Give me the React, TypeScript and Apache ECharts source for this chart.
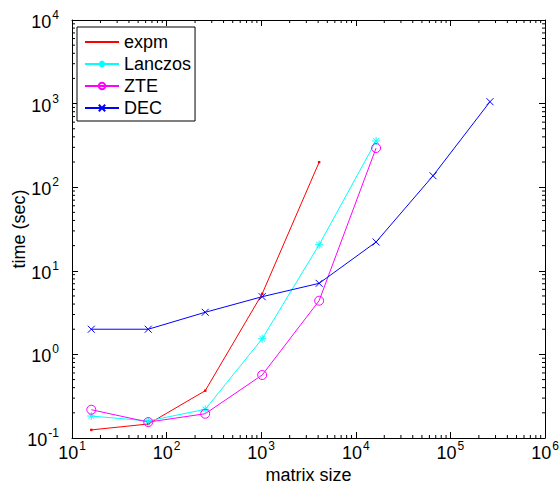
import React, { useEffect, useRef } from "react";
import * as echarts from "echarts";

const FONT = "'Liberation Sans', Arial, Helvetica, sans-serif";

const matrixSizes = [16, 64, 256, 1024, 4096, 16384, 65536, 262144];
const expmTimes = [0.125, 0.147, 0.368, 5.3, 199];
const lanczosTimes = [0.183, 0.16, 0.22, 1.54, 20.5, 357];
const zteTimes = [0.218, 0.155, 0.195, 0.567, 4.39, 294];
const decTimes = [2.0, 2.0, 3.19, 4.9, 7.08, 22.1, 137, 1054];

const X_MIN = 10;
const X_MAX = 1e6;
const Y_MIN = 0.1;
const Y_MAX = 1e4;

const xDecades = [1e1, 1e2, 1e3, 1e4, 1e5];
const yDecades = [1e-1, 1e0, 1e1, 1e2, 1e3];
const minorMultipliers = [2, 3, 4, 5, 6, 7, 8, 9];

const xMinor = xDecades.flatMap((d) => minorMultipliers.map((m) => m * d));
const yMinor = yDecades.flatMap((d) => minorMultipliers.map((m) => +(m * d).toPrecision(3)));

const pairs = (vals: number[]) => vals.map((v, i) => [matrixSizes[i], v]);

const expLabel = (v: number) => `{b|10}{s|${Math.round(Math.log10(v))}}`;

const richX = {
  b: { fontSize: 18, fontFamily: FONT, color: "#000", lineHeight: 22, verticalAlign: "bottom" },
  s: { fontSize: 12, fontFamily: FONT, color: "#000", lineHeight: 12, verticalAlign: "top", padding: [0, 0, 0, 1] },
};

const MINOR_LEN = 3;

export default function App() {
  const ref = useRef<HTMLDivElement>(null);
  useEffect(() => {
    if (!ref.current) return;
    const chart = echarts.init(ref.current, null, { renderer: "svg" });
    const axisLine = { show: true, lineStyle: { color: "#000", width: 1 } };
    const axisTick = { show: true, inside: true, length: 6, lineStyle: { color: "#000", width: 1 } };
    const option: any = {
      animation: false,
      backgroundColor: "#fff",
      grid: { left: 72, right: 15, top: 20, bottom: 47, containLabel: false, outerBoundsMode: "none" },
      legend: {
        left: 77,
        top: 27,
        orient: "vertical",
        backgroundColor: "#fff",
        borderColor: "#000",
        borderWidth: 1,
        borderRadius: 0,
        padding: [6, 4, 4, 7],
        itemWidth: 34,
        itemHeight: 8,
        itemGap: 4,
        textStyle: { fontSize: 18, lineHeight: 18, fontFamily: FONT, color: "#000" },
        data: ["expm", "Lanczos", "ZTE", "DEC"],
      },
      xAxis: [
        {
          type: "log",
          logBase: 10,
          min: X_MIN,
          max: X_MAX,
          splitNumber: 5,
          name: "matrix size",
          nameLocation: "middle",
          nameGap: 28,
          nameMoveOverlap: false,
          nameTextStyle: { fontSize: 18, lineHeight: 18, fontFamily: FONT, color: "#000" },
          axisLine,
          axisTick,
          splitLine: { show: false },
          axisLabel: { margin: 2, formatter: expLabel, rich: richX },
        },
        {
          type: "log",
          logBase: 10,
          min: X_MIN,
          max: X_MAX,
          splitNumber: 5,
          position: "top",
          axisLine,
          axisTick,
          splitLine: { show: false },
          axisLabel: { show: false },
        },
      ],
      yAxis: [
        {
          type: "log",
          logBase: 10,
          min: Y_MIN,
          max: Y_MAX,
          splitNumber: 5,
          name: "time (sec)",
          nameLocation: "middle",
          nameGap: 44,
          nameMoveOverlap: false,
          nameTextStyle: { fontSize: 18, lineHeight: 18, fontFamily: FONT, color: "#000" },
          axisLine,
          axisTick,
          splitLine: { show: false },
          axisLabel: { margin: 13, formatter: expLabel, rich: richX },
        },
        {
          type: "log",
          logBase: 10,
          min: Y_MIN,
          max: Y_MAX,
          splitNumber: 5,
          position: "right",
          axisLine,
          axisTick,
          splitLine: { show: false },
          axisLabel: { show: false },
        },
      ],
      series: [
        {
          type: "custom",
          name: "xminor",
          silent: true,
          xAxisIndex: 0,
          yAxisIndex: 0,
          data: xMinor.map((v) => [v, 1]),
          renderItem: (params: any, api: any) => {
            const cs = params.coordSys;
            const x = api.coord([api.value(0), 1])[0];
            const top = cs.y;
            const bottom = cs.y + cs.height;
            const style = { stroke: "#000", lineWidth: 1 };
            return {
              type: "group",
              children: [
                { type: "line", shape: { x1: x, y1: bottom, x2: x, y2: bottom - MINOR_LEN }, style },
                { type: "line", shape: { x1: x, y1: top, x2: x, y2: top + MINOR_LEN }, style },
              ],
            };
          },
        },
        {
          type: "custom",
          name: "yminor",
          silent: true,
          xAxisIndex: 0,
          yAxisIndex: 0,
          data: yMinor.map((v) => [100, v]),
          renderItem: (params: any, api: any) => {
            const cs = params.coordSys;
            const y = api.coord([100, api.value(1)])[1];
            const left = cs.x;
            const right = cs.x + cs.width;
            const style = { stroke: "#000", lineWidth: 1 };
            return {
              type: "group",
              children: [
                { type: "line", shape: { x1: left, y1: y, x2: left + MINOR_LEN, y2: y }, style },
                { type: "line", shape: { x1: right, y1: y, x2: right - MINOR_LEN, y2: y }, style },
              ],
            };
          },
        },
        {
          type: "line",
          name: "expm",
          data: pairs(expmTimes),
          color: "#ff0000",
          lineStyle: { color: "#ff0000", width: 1 },
          symbol: "path://M0,0M10,10M3.5,3.5L6.5,3.5L6.5,6.5L3.5,6.5Z",
          symbolSize: 8,
          itemStyle: { color: "#ff0000" },
        },
        {
          type: "line",
          name: "Lanczos",
          data: pairs(lanczosTimes),
          color: "#00ffff",
          lineStyle: { color: "#00ffff", width: 1 },
          symbol: "path://M0,5L10,5M5,0L5,10M1.5,1.5L8.5,8.5M1.5,8.5L8.5,1.5",
          symbolSize: 8,
          itemStyle: { color: "#00ffff", borderColor: "#00ffff", borderWidth: 1 },
        },
        {
          type: "line",
          name: "ZTE",
          data: pairs(zteTimes),
          color: "#ff00ff",
          lineStyle: { color: "#ff00ff", width: 1 },
          symbol: "path://M10,5A5,5,0,1,1,0,5A5,5,0,1,1,10,5Z",
          symbolSize: 9,
          itemStyle: { color: "rgba(255,0,255,0)", borderColor: "#ff00ff", borderWidth: 1 },
        },
        {
          type: "line",
          name: "DEC",
          data: pairs(decTimes),
          color: "#0000ff",
          lineStyle: { color: "#0000ff", width: 1 },
          symbol: "path://M0,0L10,10M0,10L10,0",
          symbolSize: 7,
          itemStyle: { color: "#0000ff", borderColor: "#0000ff", borderWidth: 1 },
        },
      ],
    };
    chart.setOption(option);
    return () => chart.dispose();
  }, []);
  return <div ref={ref} style={{ position: "absolute", left: 0, top: 0, width: 560, height: 485 }} />;
}
